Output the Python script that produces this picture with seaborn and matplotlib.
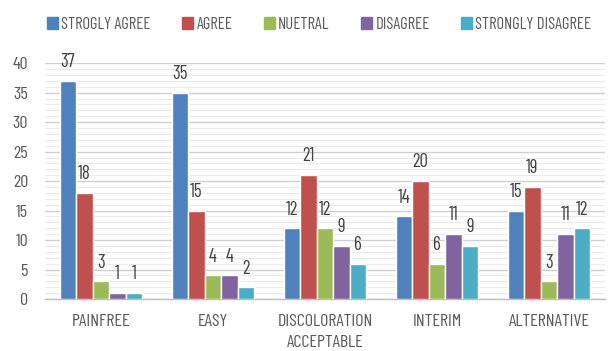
import matplotlib
matplotlib.use("Agg")
import matplotlib.pyplot as plt
from matplotlib.ticker import MultipleLocator
from matplotlib import font_manager
import seaborn as sns
import pandas as pd

categories = ["PAINFREE", "EASY", "DISCOLORATION\nACCEPTABLE", "INTERIM", "ALTERNATIVE"]
series = ["STROGLY AGREE", "AGREE", "NUETRAL", "DISAGREE", "STRONGLY DISAGREE"]
strongly_agree = [37, 35, 12, 14, 15]
agree = [18, 15, 21, 20, 19]
neutral = [3, 4, 12, 6, 3]
disagree = [1, 4, 9, 11, 11]
strongly_disagree = [1, 2, 6, 9, 12]
colors = ["#4F81BD", "#C0504D", "#9BBB59", "#8064A2", "#4BACC6"]

rows = []
for name, vals in zip(series, [strongly_agree, agree, neutral, disagree, strongly_disagree]):
    for cat, v in zip(categories, vals):
        rows.append({"category": cat, "response": name, "count": v})
df = pd.DataFrame(rows)

sns.set_theme(style="white")
names = {f.name for f in font_manager.fontManager.ttflist}
narrow = [n for n in ["Barlow Condensed", "Archivo Narrow", "Carlito"] if n in names][:1]
plt.rcParams["font.family"] = narrow + ["DejaVu Sans"]
plt.rcParams["font.weight"] = "normal"
text_color = "#595959"

fig = plt.figure(figsize=(6.08, 3.51), dpi=100)
ax = fig.add_axes([0.074, 0.148, 0.921, 0.672])

sns.barplot(data=df, x="category", y="count", hue="response", order=categories,
            hue_order=series, palette=colors, width=0.74, saturation=1,
            ax=ax, legend=False, zorder=3)

ax.set_ylim(0, 40)
ax.set_xlim(-0.5, 4.5)
ax.yaxis.set_major_locator(MultipleLocator(5))
ax.yaxis.set_minor_locator(MultipleLocator(1))
ax.grid(axis="y", which="major", color="#D0D0D0", linewidth=1.0, zorder=0)
ax.grid(axis="y", which="minor", color="#EBEBEB", linewidth=0.8, zorder=0)
ax.set_axisbelow(True)
for s in ["top", "right", "left"]:
    ax.spines[s].set_visible(False)
ax.spines["bottom"].set_color("#BFBFBF")
ax.spines["bottom"].set_linewidth(1.0)
ax.tick_params(axis="both", which="both", length=0, colors=text_color, labelsize=13)
ax.tick_params(axis="x", pad=11)
ax.tick_params(axis="y", pad=12)
for lbl in ax.get_xticklabels():
    lbl.set_linespacing(1.45)
ax.set_xlabel("")
ax.set_ylabel("")

for container in ax.containers:
    ax.bar_label(container, padding=7, fontsize=13.5, color="#404040")

handles = [plt.Rectangle((0, 0), 1, 1, color=c) for c in colors]
fig.legend(handles, series, loc="upper center", bbox_to_anchor=(0.525, 0.995),
           ncol=5, frameon=False, fontsize=12, handlelength=0.65, handleheight=0.7,
           handletextpad=0.2, columnspacing=1.9, labelcolor=text_color)

fig.savefig("out.png", dpi=100, facecolor="white")
